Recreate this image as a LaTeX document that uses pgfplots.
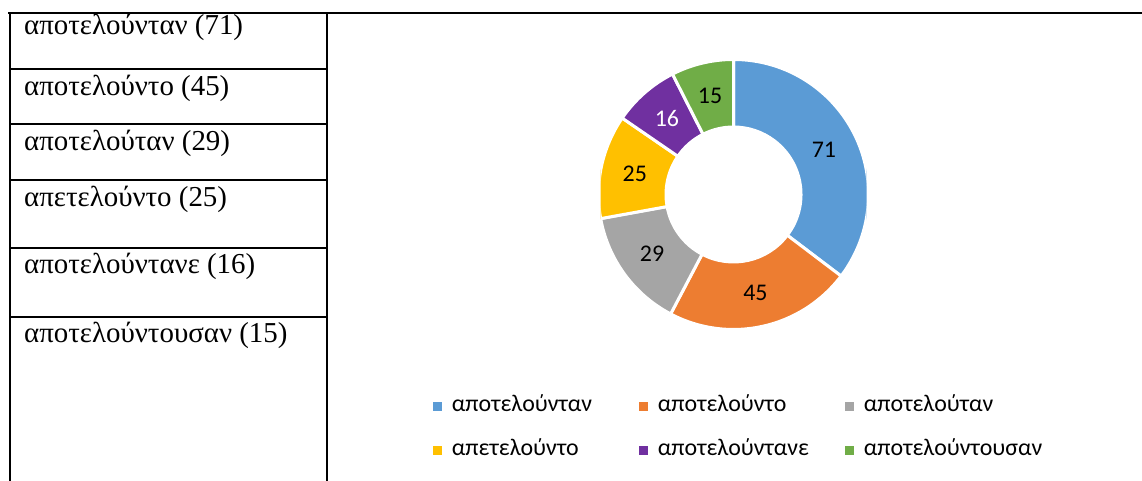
\documentclass[border=0pt]{standalone}
\usepackage{pgfplots}
\pgfplotsset{compat=1.18}
\usepackage{fontspec}
\setmainfont{Liberation Serif}
\newfontfamily\calibri{Carlito}

\definecolor{cA}{HTML}{5B9BD5}
\definecolor{cB}{HTML}{ED7D31}
\definecolor{cC}{HTML}{A5A5A5}
\definecolor{cD}{HTML}{FFC000}
\definecolor{cE}{HTML}{7030A0}
\definecolor{cF}{HTML}{70AD47}

\tikzset{lbl/.style={font=\calibri\fontsize{24}{28}\selectfont}}

% donut slices: value / colour / label colour
\gdef\slicecmds{}
\gdef\acc{0}
\foreach \v/\c/\t in {71/cA/black,45/cB/black,29/cC/black,25/cD/black,16/cE/white,15/cF/black}{
  \pgfmathsetmacro\aS{90-\acc/201*360}
  \pgfmathsetmacro\aE{90-(\acc+\v)/201*360}
  \pgfmathsetmacro\aM{(\aS+\aE)/2}
  \pgfmathsetmacro\xa{135*cos(\aS)}\pgfmathsetmacro\ya{135*sin(\aS)}
  \pgfmathsetmacro\xb{67.5*cos(\aE)}\pgfmathsetmacro\yb{67.5*sin(\aE)}
  \pgfmathsetmacro\xm{101*cos(\aM)}\pgfmathsetmacro\ym{101*sin(\aM)}
  \pgfmathsetmacro\nacc{\acc+\v}
  \xdef\acc{\nacc}
  \xdef\slicecmds{\unexpanded\expandafter{\slicecmds}
    \noexpand\fill[\c,draw=white,line width=3bp] (axis cs:\xa,\ya) arc[start angle=\aS,end angle=\aE,radius=135bp] -- (axis cs:\xb,\yb) arc[start angle=\aE,end angle=\aS,radius=67.5bp] -- cycle;
    \noexpand\node[lbl,text=\t] at (axis cs:\xm,\ym) {\v};}
}

\begin{document}
\begin{tikzpicture}[x=1bp,y=1bp]
\useasboundingbox (0,0) rectangle (1142,481);
% table at left
\draw[line width=2.2bp] (8,468) -- (1142,468);
\draw[line width=1.3bp] (10,468) -- (10,0) (327,468) -- (327,0);
\foreach \y in {412,357,301,233,164} \draw[line width=1.3bp] (10,\y) -- (327,\y);
\foreach \t/\y in {αποτελούνταν (71)/446,αποτελούντο (45)/385,αποτελούταν (29)/330,απετελούντο (25)/274,αποτελούντανε (16)/207,αποτελούντουσαν (15)/138}
  \node[anchor=base west,inner sep=0,font=\fontsize{29}{33}\selectfont] at (24,\y) {\t};

\begin{axis}[
    at={(733.5,286.5)}, anchor=center,
    hide axis, scale only axis,
    width=266bp, height=266bp,
    xmin=-133, xmax=133, ymin=-133, ymax=133,
    enlargelimits=false,
    legend columns=3,
    legend cell align=left,
    legend style={draw=none, fill=none, inner sep=0pt, outer sep=0pt,
      at={(-0.63,-0.2575)}, anchor=north west,
      font=\calibri\fontsize{24}{28}\selectfont,
      nodes={inner ysep=0pt, inner xsep=10bp, text height=16bp, text depth=6bp},
      row sep=22bp},
    legend image code/.code={\fill[#1] (0bp,-4.5bp) rectangle (9bp,4.5bp);},
  ]
  \slicecmds
  \addlegendimage{fill=cA,draw=none}\addlegendentry{\makebox[177bp][l]{αποτελούνταν}}
  \addlegendimage{fill=cB,draw=none}\addlegendentry{\makebox[177bp][l]{αποτελούντο}}
  \addlegendimage{fill=cC,draw=none}\addlegendentry{\makebox[177bp][l]{αποτελούταν}}
  \addlegendimage{fill=cD,draw=none}\addlegendentry{\makebox[177bp][l]{απετελούντο}}
  \addlegendimage{fill=cE,draw=none}\addlegendentry{\makebox[177bp][l]{αποτελούντανε}}
  \addlegendimage{fill=cF,draw=none}\addlegendentry{\makebox[177bp][l]{αποτελούντουσαν}}
\end{axis}
\end{tikzpicture}
\end{document}
